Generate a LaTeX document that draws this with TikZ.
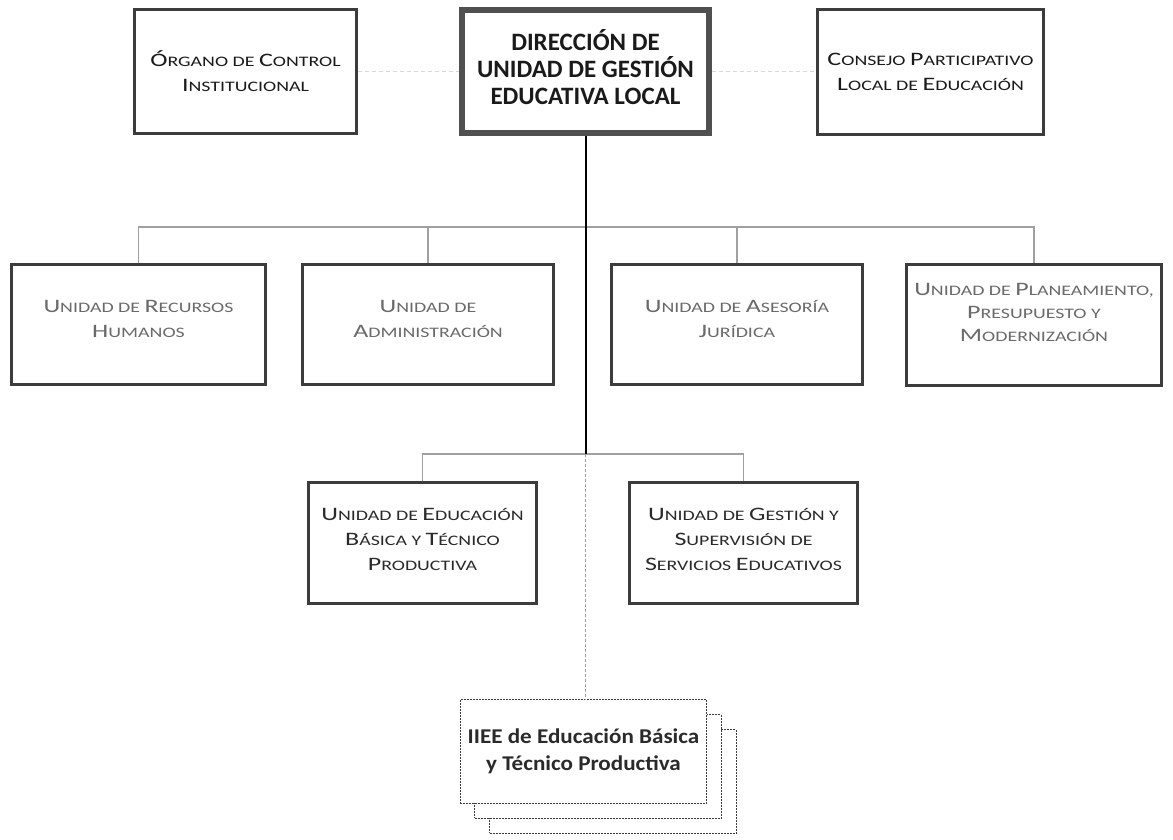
\documentclass[tikz,border=0pt]{standalone}
\usepackage{fontspec}
\setmainfont{Carlito}
\newfontfamily\scf[FakeStretch=1.37]{Carlito}
\newfontfamily\ief[FakeStretch=1.1]{Carlito}
\newcommand\Bg[1]{{\fontsize{19}{25}\selectfont #1}}
\definecolor{boxline}{HTML}{3C3C3C}
\definecolor{dirline}{HTML}{505050}
\definecolor{txtA}{HTML}{1A1A1A}
\definecolor{txtB}{HTML}{6A6A6A}
\definecolor{txtC}{HTML}{2A2A2A}
\definecolor{busgray}{HTML}{A0A0A0}
\definecolor{faintgray}{HTML}{D8D8D8}
\tikzset{
  unit/.style={draw=boxline, line width=3pt, fill=white, align=center, inner sep=2pt,
    font=\scf\fontsize{14.5}{25}\selectfont},
  toprow/.style={unit, text=txtA},
  midrow/.style={unit, text=txtB, text depth=11pt},
  lowrow/.style={unit, text=txtC, text depth=8pt},
  dirbox/.style={draw=dirline, line width=6pt, fill=white, align=center,
    font=\bfseries\fontsize{25}{27}\selectfont, text=txtA, text depth=9pt},
  iebox/.style={draw=boxline, line width=1.3pt, dash pattern=on 2pt off 1pt, fill=white,
    align=center, minimum width=246.5pt, minimum height=103.5pt,
    font=\ief\bfseries\fontsize{21}{27}\selectfont, text=txtC},
  mainline/.style={draw=black, line width=2pt},
  busline/.style={draw=busgray, line width=1.3pt},
  faintline/.style={draw=faintgray, line width=1.2pt, dash pattern=on 4pt off 3pt},
  dotline/.style={draw=busgray, line width=1pt, dash pattern=on 3pt off 2pt},
}
\begin{document}
\begin{tikzpicture}[x=1pt,y=-1pt]
\useasboundingbox (0,0) rectangle (1173,839);

% top row
\node[toprow, minimum width=222pt, minimum height=124pt] (org) at (245.5,71.5)
  {\Bg{Ó}RGANO DE \Bg{C}ONTROL\\\Bg{I}NSTITUCIONAL};
\node[dirbox, minimum width=247pt, minimum height=123pt] (dir) at (585.5,71.5)
  {DIRECCIÓN DE\\UNIDAD DE GESTIÓN\\EDUCATIVA LOCAL};
\node[toprow, minimum width=226pt, minimum height=125pt] (con) at (930.5,71.5)
  {\Bg{C}ONSEJO \Bg{P}ARTICIPATIVO\\\Bg{L}OCAL DE \Bg{E}DUCACIÓN};

% second row
\node[midrow, minimum width=254pt, minimum height=120pt] (rrhh) at (138.5,324.5)
  {\Bg{U}NIDAD DE \Bg{R}ECURSOS\\\Bg{H}UMANOS};
\node[midrow, minimum width=251pt, minimum height=120pt] (adm) at (428,324.5)
  {\Bg{U}NIDAD DE\\\Bg{A}DMINISTRACIÓN};
\node[midrow, minimum width=251pt, minimum height=120pt] (ase) at (737,324.5)
  {\Bg{U}NIDAD DE \Bg{A}SESORÍA\\\Bg{J}URÍDICA};
\node[midrow, minimum width=255pt, minimum height=121pt, text depth=25pt,
  font=\scf\fontsize{14.5}{23}\selectfont] (pla) at (1034,325)
  {\Bg{U}NIDAD DE \Bg{P}LANEAMIENTO,\\\Bg{P}RESUPUESTO Y\\\Bg{M}ODERNIZACIÓN};

% third row
\node[lowrow, minimum width=228pt, minimum height=121pt] (edu) at (422.5,543)
  {\Bg{U}NIDAD DE \Bg{E}DUCACIÓN\\\Bg{B}ÁSICA Y \Bg{T}ÉCNICO\\\Bg{P}RODUCTIVA};
\node[lowrow, minimum width=228pt, minimum height=121pt] (ges) at (743.5,543)
  {\Bg{U}NIDAD DE \Bg{G}ESTIÓN Y\\\Bg{S}UPERVISIÓN DE\\\Bg{S}ERVICIOS \Bg{E}DUCATIVOS};

% stacked IIEE boxes
\node[iebox] (ie3) at (613,781.5) {};
\node[iebox] (ie2) at (598,766.5) {};
\node[iebox] (ie1) at (583.5,751.5) {IIEE de Educación Básica\\y Técnico Productiva};

% coordinates of junctions
\coordinate (b1) at (585.5,227);
\coordinate (b2) at (585.5,454);

% faint top links
\draw[faintline] (org.east) -- (dir.west);
\draw[faintline] (dir.east) -- (con.west);

% buses
\draw[busline] (rrhh.north) |- (b1);
\draw[busline] (adm.north) |- (b1);
\draw[busline] (ase.north) |- (b1);
\draw[busline] (pla.north) |- (b1);
\draw[busline] (edu.north) |- (b2);
\draw[busline] (ges.north) |- (b2);

% main spine
\draw[mainline] (dir.south) -- (b2);
\draw[dotline] (b2) -- (b2 |- ie1.north);
\end{tikzpicture}
\end{document}
